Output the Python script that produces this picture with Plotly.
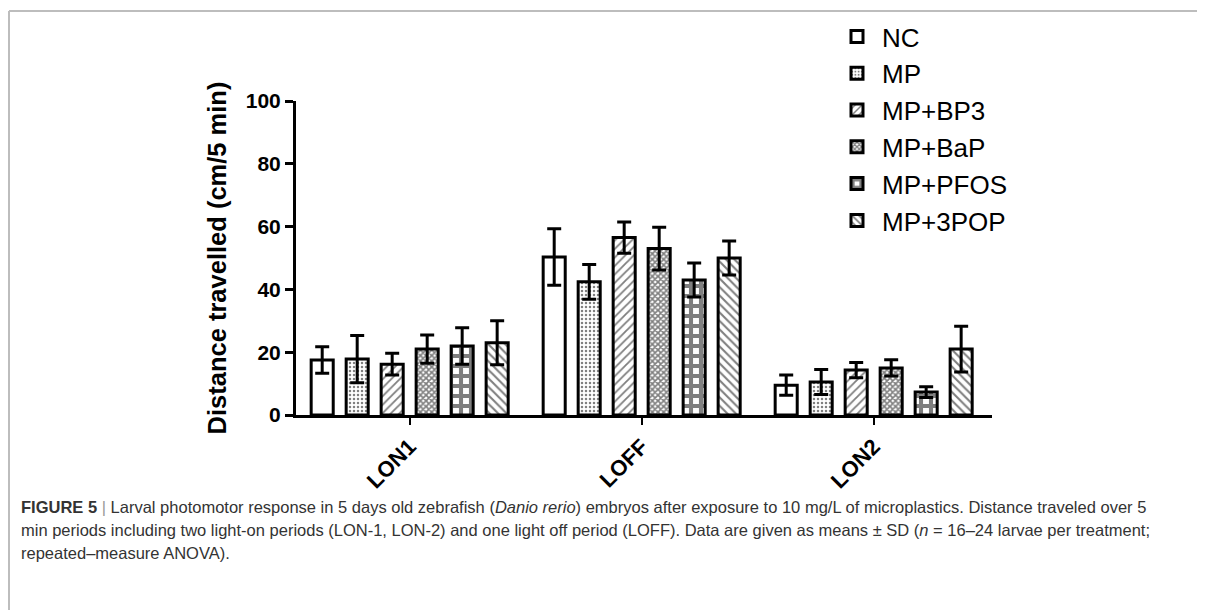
import plotly.graph_objects as go

periods = ["LON1", "LOFF", "LON2"]
groups = ["NC", "MP", "MP+BP3", "MP+BaP", "MP+PFOS", "MP+3POP"]

nc_mean = [17.5, 50.3, 9.5]
nc_sd = [4.2, 9.0, 3.2]
mp_mean = [17.8, 42.4, 10.5]
mp_sd = [7.5, 5.5, 4.0]
bp3_mean = [16.2, 56.5, 14.3]
bp3_sd = [3.5, 5.0, 2.4]
bap_mean = [21.0, 53.0, 15.0]
bap_sd = [4.5, 6.8, 2.6]
pfos_mean = [22.0, 43.0, 7.3]
pfos_sd = [5.8, 5.4, 1.7]
pop_mean = [23.0, 50.0, 21.0]
pop_sd = [7.0, 5.4, 7.3]

means = [nc_mean, mp_mean, bp3_mean, bap_mean, pfos_mean, pop_mean]
sds = [nc_sd, mp_sd, bp3_sd, bap_sd, pfos_sd, pop_sd]

patterns = [
    dict(shape=""),
    dict(shape=".", size=4, solidity=0.3, fgcolor="black", bgcolor="white"),
    dict(shape="/", size=6, solidity=0.3, fgcolor="black", bgcolor="white"),
    dict(shape="x", size=4, solidity=0.65, fgcolor="black", bgcolor="white"),
    dict(shape="+", size=10, solidity=0.65, fgcolor="black", bgcolor="white"),
    dict(shape="\\", size=6, solidity=0.35, fgcolor="black", bgcolor="white"),
]

fig = go.Figure()
for name, m, s, p in zip(groups, means, sds, patterns):
    fig.add_trace(go.Bar(
        x=periods, y=m, name=name, legendgroup=name,
        marker=dict(color="white", line=dict(color="black", width=3), pattern=p),
        error_y=dict(type="data", array=s, visible=True, color="black",
                     thickness=3, width=7),
    ))

font = "Arial, Liberation Sans, sans-serif"
OFF = 8  # page body margin
W, H = 1205 - OFF, 610 - OFF
L, T = 296 - OFF, 101 - OFF
pw, ph = 696, 314
R, B = W - L - pw, H - T - ph


def px(x):
    return (x - OFF - L) / pw


def py(y):
    return (T + ph - (y - OFF)) / ph


fig.update_layout(
    width=W, height=H,
    margin=dict(l=L, r=R, t=T, b=B, autoexpand=False),
    paper_bgcolor="white", plot_bgcolor="white",
    barmode="group", bargap=0.095, bargroupgap=0.37,
    font=dict(family=font, color="black"),
    showlegend=True,
    legend=dict(x=px(832), y=py(13), xanchor="left", yanchor="top",
                font=dict(size=26, family=font, color="black"),
                tracegroupgap=0, itemwidth=40, bgcolor="rgba(0,0,0,0)"),
    xaxis=dict(range=[-0.49, 2.51], showline=True, linecolor="black", linewidth=3,
               ticks="outside", ticklen=7, tickwidth=2, tickcolor="black",
               tickangle=-45, tickfont=dict(size=22, family=font, color="black", weight="bold"),
               showgrid=False, zeroline=False, fixedrange=True),
    yaxis=dict(range=[0, 100], tickvals=[0, 20, 40, 60, 80, 100],
               showline=True, linecolor="black", linewidth=3,
               ticks="outside", ticklen=8, tickwidth=3, tickcolor="black",
               tickfont=dict(size=21, family=font, color="black", weight="bold"),
               title=dict(text="Distance travelled (cm/5 min)", standoff=12,
                          font=dict(size=25.5, family=font, color="black", weight="bold")),
               showgrid=False, zeroline=False, fixedrange=True),
)

# figure frame
fig.add_shape(type="line", xref="paper", yref="paper", x0=px(9), x1=px(1206), y0=py(11), y1=py(11),
              line=dict(color="#bdbdbd", width=2))
fig.add_shape(type="line", xref="paper", yref="paper", x0=px(9), x1=px(9), y0=py(11), y1=py(612),
              line=dict(color="#bdbdbd", width=2))

caption = [
    "<b>FIGURE 5</b> <span style='color:#999'>|</span> Larval photomotor response in 5 days old zebrafish (<i>Danio rerio</i>) embryos after exposure to 10 mg/L of microplastics. Distance traveled over 5",
    "min periods including two light-on periods (LON-1, LON-2) and one light off period (LOFF). Data are given as means ± SD (<i>n</i> = 16–24 larvae per treatment;",
    "repeated–measure ANOVA).",
]
for i, line in enumerate(caption):
    fig.add_annotation(text=line, xref="paper", yref="paper", x=px(19), y=py(507 + 23 * i),
                       xanchor="left", yanchor="middle", showarrow=False, align="left",
                       font=dict(size=16.5, family=font, color="#333333"))

fig.write_html("out.html")
